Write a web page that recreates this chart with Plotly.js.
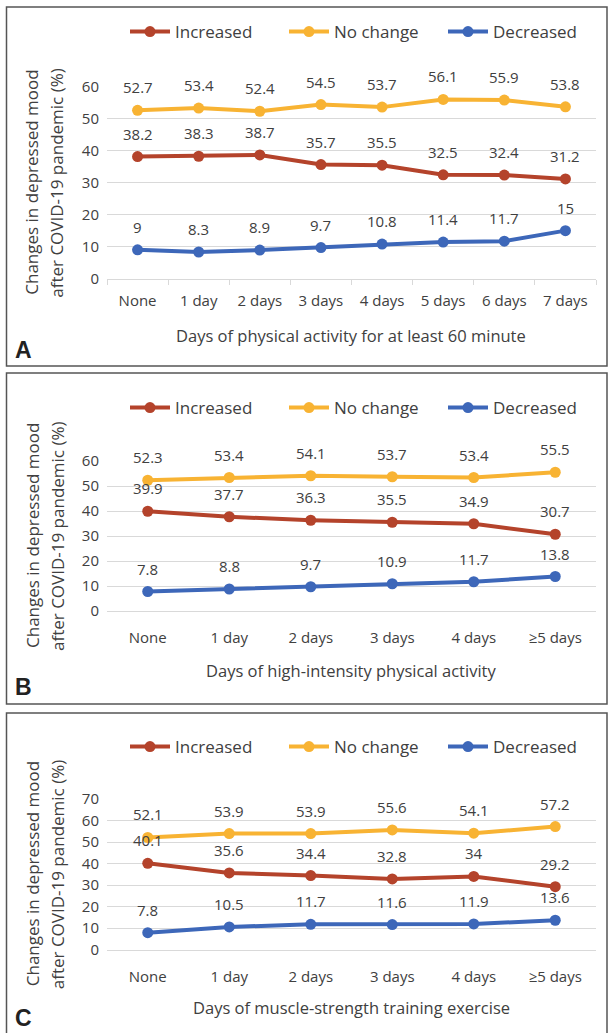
<!DOCTYPE html>
<html>
<head>
<meta charset="utf-8">
<script src="https://cdn.plot.ly/plotly-3.0.1.min.js"></script>
<style>html,body{margin:0;padding:0;background:#fff}#chart{width:608px;height:1033px}</style>
</head>
<body>
<div id="chart"></div>
<script>
// ---- Data ----
const seriesNames = ["Increased", "No change", "Decreased"];
const catsA = ["None", "1 day", "2 days", "3 days", "4 days", "5 days", "6 days", "7 days"];
const catsB = ["None", "1 day", "2 days", "3 days", "4 days", "\u22655 days"];
const catsC = ["None", "1 day", "2 days", "3 days", "4 days", "\u22655 days"];

const increasedA = [38.2, 38.3, 38.7, 35.7, 35.5, 32.5, 32.4, 31.2];
const noChangeA  = [52.7, 53.4, 52.4, 54.5, 53.7, 56.1, 55.9, 53.8];
const decreasedA = [9, 8.3, 8.9, 9.7, 10.8, 11.4, 11.7, 15];

const increasedB = [39.9, 37.7, 36.3, 35.5, 34.9, 30.7];
const noChangeB  = [52.3, 53.4, 54.1, 53.7, 53.4, 55.5];
const decreasedB = [7.8, 8.8, 9.7, 10.9, 11.7, 13.8];

const increasedC = [40.1, 35.6, 34.4, 32.8, 34, 29.2];
const noChangeC  = [52.1, 53.9, 53.9, 55.6, 54.1, 57.2];
const decreasedC = [7.8, 10.5, 11.7, 11.6, 11.9, 13.6];

const xTitleA = "Days of physical activity for at least 60 minute";
const xTitleB = "Days of high-intensity physical activity";
const xTitleC = "Days of muscle-strength training exercise";
const yTitle1 = "Changes in depressed mood";
const yTitle2 = "after COVID-19 pandemic (%)";
const panelLetters = ["A", "B", "C"];

// ---- Styling / layout ----
const W = 608, H = 1033;
const colors = ["#B4432B", "#F8B333", "#3D67B9"];
const FONT = "Open Sans, Lato, sans-serif";
const TXT = "#404040";
const px = v => v / W;
const py = v => 1 - v / H;

const panels = [
  {cats: catsA, vals: [increasedA, noChangeA, decreasedA], xt: xTitleA, top: 87, bot: 278.5, ymax: 60,
   legendY: 32, xTitleY: 335, letterY: 350, box: [7, 366], ticks: true},
  {cats: catsB, vals: [increasedB, noChangeB, decreasedB], xt: xTitleB, top: 461, bot: 611, ymax: 60,
   legendY: 408, xTitleY: 670, letterY: 687, box: [373, 704], ticks: false},
  {cats: catsC, vals: [increasedC, noChangeC, decreasedC], xt: xTitleC, top: 799, bot: 949.5, ymax: 70,
   legendY: 747, xTitleY: 1007, letterY: 1018, box: [713, 1045], ticks: false}
];

const data = [];
const layout = {
  width: W, height: H,
  margin: {l: 0, r: 0, t: 0, b: 0, autoexpand: false},
  paper_bgcolor: "#fff", plot_bgcolor: "#fff",
  font: {family: FONT, color: TXT, size: 15},
  showlegend: true,
  annotations: [], shapes: []
};

panels.forEach((p, i) => {
  const sfx = i === 0 ? "" : String(i + 1);
  const xa = "x" + sfx, ya = "y" + sfx;
  const legName = "legend" + sfx;
  p.vals.forEach((vals, s) => {
    data.push({
      type: "scatter", mode: "lines+markers",
      x: p.cats, y: vals, name: seriesNames[s],
      xaxis: xa, yaxis: ya, legend: legName,
      line: {color: colors[s], width: 4},
      marker: {color: colors[s], size: 11},
      hoverinfo: "x+y"
    });
    vals.forEach((v, k) => {
      layout.annotations.push({
        xref: xa, yref: ya, x: p.cats[k], y: v, text: String(v),
        showarrow: false, yshift: 23, yanchor: "middle",
        font: {family: FONT, size: 15, color: TXT}
      });
    });
  });
  layout["xaxis" + sfx] = {
    domain: [px(107), px(596)], anchor: ya, type: "category",
    range: [-0.5, p.cats.length - 0.5],
    showgrid: false, zeroline: false,
    showline: true, linecolor: "#D9D9D9", linewidth: 1,
    ticks: p.ticks ? "outside" : "", tickson: "boundaries", ticklen: 5, tickcolor: "#D9D9D9",
    ticklabelstandoff: p.ticks ? 8 : 13,
    tickfont: {family: FONT, size: 15, color: TXT},
    fixedrange: true
  };
  layout["yaxis" + sfx] = {
    domain: [py(p.bot), py(p.top)], anchor: xa,
    range: [0, p.ymax], dtick: 10, tick0: 0,
    showgrid: true, gridcolor: "#D9D9D9", gridwidth: 1,
    zeroline: false, showline: false, ticks: "",
    ticklabelstandoff: 7,
    tickfont: {family: FONT, size: 15, color: TXT},
    fixedrange: true
  };
  layout[legName] = {
    orientation: "h", x: px(125), xanchor: "left",
    y: py(p.legendY), yanchor: "middle",
    font: {family: FONT, size: 17, color: TXT},
    bgcolor: "rgba(0,0,0,0)", itemwidth: 40, tracegroupgap: 0,
    entrywidth: 104, entrywidthmode: "pixels"
  };
  // x axis title
  layout.annotations.push({
    xref: "paper", yref: "paper", x: px(351), y: py(p.xTitleY),
    text: p.xt, showarrow: false, xanchor: "center", yanchor: "middle",
    font: {family: FONT, size: 16.5, color: TXT}
  });
  // y axis title (two lines)
  const yc = (p.top + p.bot) / 2;
  [[yTitle1, 32], [yTitle2, 57]].forEach(([t, xx]) => {
    layout.annotations.push({
      xref: "paper", yref: "paper", x: px(xx), y: py(yc),
      text: t, showarrow: false, textangle: -90,
      xanchor: "center", yanchor: "middle",
      font: {family: FONT, size: 17, color: TXT}
    });
  });
  // panel letter
  layout.annotations.push({
    xref: "paper", yref: "paper", x: px(13), y: py(p.letterY),
    text: "<b>" + panelLetters[i] + "</b>", showarrow: false,
    xanchor: "left", yanchor: "middle",
    font: {family: "Liberation Sans, Arial, sans-serif", size: 23, color: "#222"}
  });
  // panel frame
  layout.shapes.push({
    type: "rect", xref: "paper", yref: "paper",
    x0: px(6.5), x1: px(607), y0: py(p.box[1]), y1: py(p.box[0]),
    line: {color: "#555", width: 1.5}, fillcolor: "rgba(0,0,0,0)", layer: "below"
  });
});

Plotly.newPlot("chart", data, layout, {staticPlot: true, displayModeBar: false});
</script>
</body>
</html>
